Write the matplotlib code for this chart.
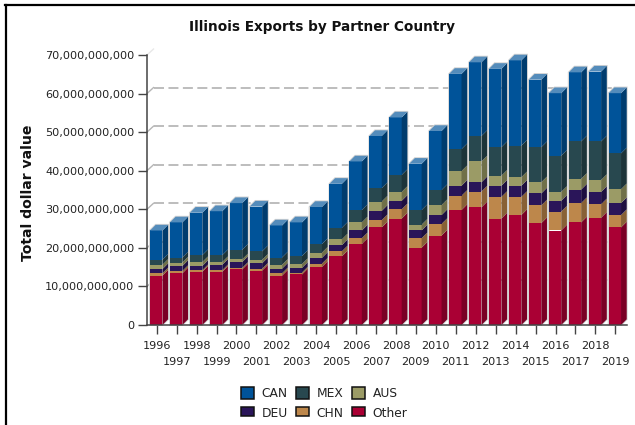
import matplotlib
matplotlib.use("Agg")
import matplotlib.pyplot as plt
import numpy as np
from matplotlib.lines import Line2D
from matplotlib.patches import Patch
from matplotlib.ticker import FuncFormatter

years = list(range(1996, 2020))
# segment values in billions of dollars, bottom to top of the stack
other = [12.8,13.4,13.8,13.8,14.4,14.1,12.8,13.1,15.05,17.8,21.0,25.3,27.6,20.05,23.2,29.8,30.5,27.6,28.5,26.4,24.5,26.6,27.8,25.3]
chn   = [0.6,0.6,0.4,0.4,0.4,0.5,0.6,0.5,0.85,1.3,1.5,1.9,2.4,2.45,3.0,3.7,4.1,5.6,4.7,4.6,4.9,5.0,3.5,3.2]
deu   = [1.1,1.3,1.1,1.4,1.5,1.4,1.2,1.2,1.5,1.6,2.0,2.4,2.2,2.0,2.3,2.6,2.4,2.9,2.9,3.1,2.8,3.5,3.2,3.1]
aus   = [1.1,0.9,1.0,0.7,0.7,0.9,1.0,1.0,1.35,1.5,2.1,2.4,2.3,1.5,2.6,3.8,5.4,2.6,2.2,2.9,2.3,2.8,3.1,3.6]
mex   = [1.3,1.3,1.8,1.8,2.5,2.2,1.9,2.1,2.25,3.0,3.2,3.5,4.4,3.8,3.9,5.7,6.6,7.4,8.2,9.1,9.4,9.7,10.0,9.3]
can   = [7.6,9.1,11.0,11.4,12.1,11.6,8.3,8.7,9.6,11.4,12.6,13.5,14.9,12.0,15.3,19.5,19.1,20.3,22.1,17.5,16.2,17.9,18.1,15.6]

series = [("Other", other, "#AA0034"), ("CHN", chn, "#BD874B"), ("DEU", deu, "#2A1559"),
          ("AUS", aus, "#9B9B66"), ("MEX", mex, "#28484F"), ("CAN", can, "#005399")]
y_ticks = [0, 10, 20, 30, 40, 50, 60, 70]

W, H = 635, 425
FS = 8.15
plt.rcParams["font.family"] = "DejaVu Sans"
plt.rcParams["lines.scale_dashes"] = False
fig = plt.figure(figsize=(W / 100, H / 100), dpi=100)

L, R, T, B = 147, 627, 55, 325
ax = fig.add_axes([L / W, 1 - B / H, (R - L) / W, (B - T) / H])
px_year = 19.94
ax.set_xlim(1996 + (L - 156.7) / px_year, 1996 + (R - 156.7) / px_year)
ax.set_ylim(0, 70e9)
px_val = 70e9 / (B - T)


def shade(c, f):
    r = np.array(matplotlib.colors.to_rgb(c))
    return tuple(r * f) if f <= 1 else tuple(r + (1 - r) * (f - 1))


# receding grid on the back wall
gdx, gdy = 6.5 / px_year, 6 * px_val
xl, xr = ax.get_xlim()
for t in y_ticks[1:]:
    v = t * 1e9
    if t < 70:
        ax.plot([xl + gdx, xr + 0.15], [v + gdy, v + gdy], color="#ABABAB", lw=1.1,
                ls=(0, (7.2, 3.2)), clip_on=False, zorder=1)
    ax.plot([xl, xl + gdx], [v, v + gdy], color="#B5B5B5" if t < 70 else "#E8E8E8",
            lw=1, clip_on=False, zorder=1)

# stacked 3-D looking bars
bw = 12.4 / px_year
dx, dy = 5.7 / px_year, 5.7 * px_val
off = -0.5 / px_year
z = 2
for i, yr in enumerate(years):
    x0 = yr - bw / 2 + off
    x1 = x0 + bw
    base = 0.0
    # pale halo round the bar
    total = sum(s[1][i] for s in series) * 1e9
    ax.fill([x0, x0, x0 + dx, x1 + dx, x1 + dx, x1],
            [0, total, total + dy, total + dy, dy, 0], fc="none",
            ec="#D4D4D4", lw=1.3, zorder=z, clip_on=False)
    z += 1
    for name, vals, col in series:
        h = vals[i] * 1e9
        ax.bar(x0, h, bw, bottom=base, align="edge", color=col, lw=0, zorder=z)
        ax.fill([x1, x1 + dx, x1 + dx, x1], [base, base + dy, base + h + dy, base + h],
                fc=shade(col, 0.72), lw=0, zorder=z, clip_on=False)
        base += h
        z += 1
    ax.fill([x0, x0 + dx, x1 + dx, x1], [base, base + dy, base + dy, base],
            fc=shade(series[-1][2], 1.33), lw=0, zorder=z, clip_on=False)
    z += 1

for s in ("top", "right"):
    ax.spines[s].set_visible(False)
for s in ("left", "bottom"):
    ax.spines[s].set_color("#444444")
    ax.spines[s].set_linewidth(1.1)
    ax.spines[s].set_zorder(z + 1)

ax.set_yticks([t * 1e9 for t in y_ticks])
ax.yaxis.set_major_formatter(FuncFormatter(lambda v, _: f"{int(round(v)):,}"))
ax.set_xticks(years)
ax.set_xticklabels([str(y) for y in years])
ax.tick_params(axis="both", length=6.2, width=1, color="#444444", labelcolor="#222222",
               labelsize=FS)
ax.tick_params(axis="y", pad=3)
for i, t in enumerate(ax.xaxis.get_major_ticks()):
    t.set_pad(5.2 if i % 2 == 0 else 17.0)

fig.text(321.5 / W, 1 - 27 / H, "Illinois Exports by Partner Country", ha="center", va="center",
         fontsize=9.8, fontweight="bold", color="#111111")
fig.text(28.5 / W, 1 - 193 / H, "Total dollar value", rotation=90, ha="center", va="center",
         fontsize=10.1, fontweight="bold", color="#111111")

# legend (filled column-wise so the rows read CAN MEX AUS / DEU CHN Other)
order = ["CAN", "DEU", "MEX", "CHN", "AUS", "Other"]
cmap = {n: c for n, _, c in series}
handles = [Patch(facecolor=cmap[n], edgecolor="#111111", linewidth=1.1, label=n) for n in order]
LFS = 8.8
leg = fig.legend(handles=handles, ncols=3, frameon=False, fontsize=LFS,
                 loc="lower left", bbox_to_anchor=(236 / W, 1 - 425 / H), borderaxespad=0, borderpad=0.4,
                 handlelength=1.05, handleheight=1.05, handletextpad=0.62,
                 columnspacing=0.7, labelspacing=0.58, labelcolor="#222222")
# the swatches of the lower row are cut off at the bottom in the original
for name, patch in zip(order, leg.legend_handles):
    if name in ("DEU", "CHN", "Other"):
        hgt = patch.get_height()
        patch.set_y(patch.get_y() + hgt * 0.2)
        patch.set_height(hgt * 0.8)

# figure frame: only the left and top edges are visible
fig.add_artist(Line2D([6 / W, 6 / W], [0, 1 - 5 / H], color="black", lw=1.6))
fig.add_artist(Line2D([5 / W, 1], [1 - 5 / H, 1 - 5 / H], color="black", lw=1.6))

fig.savefig("out.png", dpi=100)
